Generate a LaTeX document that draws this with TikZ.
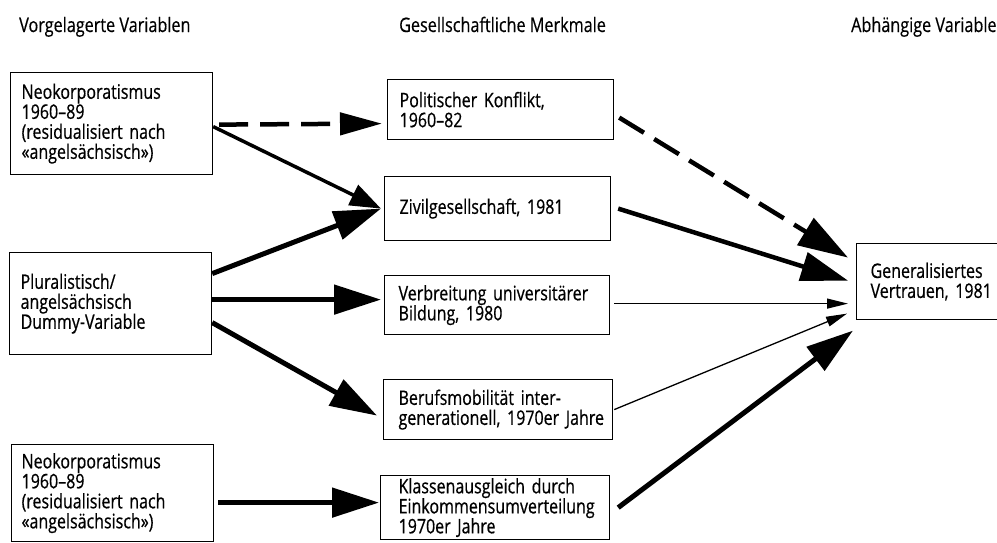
\documentclass[tikz,border=0pt]{standalone}
\usepackage{fontspec}
\setmainfont{Open Sans}[FakeStretch=0.8, FakeBold=0.6]
\newfontfamily\hdfont{Open Sans}[FakeStretch=0.81, FakeBold=0.4]
\usetikzlibrary{arrows.meta}
\begin{document}
\begin{tikzpicture}[x=1pt,y=-1pt,
  bx/.style={draw, line width=1.2pt, align=left, inner ysep=0pt, anchor=north west,
    font=\fontsize{20}{20}\selectfont},
  hd/.style={anchor=base west, inner sep=0pt, font=\hdfont\fontsize{20}{20}\selectfont},
  big/.style={line width=5pt, -{Triangle[length=47pt,width=29pt]}},
  mid/.style={line width=3.5pt, -{Triangle[length=31pt,width=22pt]}},
  thin/.style={line width=1.3pt, -{Triangle[length=21pt,width=10pt]}},
  dsh/.style={line width=4.5pt, dash pattern=on 29pt off 12pt}]
\useasboundingbox (0,0) rectangle (997,542);

% headers
\node[hd] (h1) at (19,32) {Vorgelagerte Variablen};
\node[hd] (h2) at (399,32) {Gesellschaftliche Merkmale};
\node[hd] (h3) at (851,32) {Abhängige Variable};

% left boxes
\node[bx, text width=180pt, inner xsep=11pt, minimum height=102pt] (n1) at (10,72)
  {Neokorporatismus\\1960--89\\(residualisiert~nach\\«angelsächsisch»)};
\node[bx, text width=180pt, inner xsep=11pt, minimum height=102pt] (n2) at (9,252)
  {Pluralistisch/\\angelsächsisch\\Dummy-Variable};
\node[bx, text width=182pt, inner xsep=10pt, minimum height=97pt] (n3) at (11,444)
  {Neokorporatismus\\1960--89\\(residualisiert~nach\\«angelsächsisch»)};

% middle boxes
\node[bx, text width=202pt, inner xsep=12pt, minimum height=60pt] (pol) at (387,79)
  {Politischer~Konflikt,\\1960--82};
\node[bx, text width=196pt, inner xsep=15pt, minimum height=64pt] (ziv) at (384,176)
  {Zivilgesellschaft,~1981};
\node[bx, text width=197pt, inner xsep=14pt, minimum height=59pt] (ver) at (384,275)
  {Verbreitung~universitärer\\Bildung,~1980};
\node[bx, text width=199pt, inner xsep=15pt, minimum height=60pt] (ber) at (383,379)
  {Berufsmobilität~inter-\\generationell,~1970er~Jahre};
\node[bx, text width=193pt, inner xsep=18pt, minimum height=64pt] (kla) at (380,475)
  {Klassenausgleich~durch\\Einkommensumverteilung\\1970er~Jahre};

% right box
\node[bx, text width=132pt, inner xsep=14pt, minimum height=76pt] (gen) at (856,243)
  {Generalisiertes\\Vertrauen,~1981};

% left connectors
\draw[dsh, -{Triangle[length=42pt,width=22pt]}] ([xshift=6pt,yshift=-1pt]n1.east) -- ([xshift=-5pt,yshift=-14pt]pol.west);
\draw[mid] ([yshift=-3pt]n1.east) -- ([xshift=-3pt]ziv.west);
\draw[big] ([yshift=30pt]n2.east) -- ([xshift=-3pt]ziv.west);
\draw[big] ([yshift=4pt]n2.east) -- ([xshift=-3pt,yshift=5.5pt]ver.west);
\draw[big] ([yshift=-19pt]n2.east) -- ([xshift=-6pt,yshift=-6pt]ber.west);
\draw[big] ([xshift=4pt,yshift=-9.5pt]n3.east) -- ([xshift=-1pt,yshift=5pt]kla.west);

% right connectors
\draw[dsh, -{Triangle[length=50pt,width=31pt]}] ([xshift=5pt,yshift=-8pt]pol.east) -- ([xshift=-8pt,yshift=24pt]gen.west);
\draw[big, line width=4.5pt] ([xshift=7pt]ziv.east) -- ([xshift=-8pt,yshift=1pt]gen.west);
\draw[thin] ([xshift=4pt,yshift=1.5pt]ver.east) -- ([xshift=-8pt,yshift=-22pt]gen.west);
\draw[thin] ([xshift=1pt]ber.east) -- ([xshift=-9pt,yshift=-32pt]gen.west);
\draw[big] ([xshift=8pt]kla.east) -- ([xshift=-3pt,yshift=-49pt]gen.west);
\end{tikzpicture}
\end{document}
